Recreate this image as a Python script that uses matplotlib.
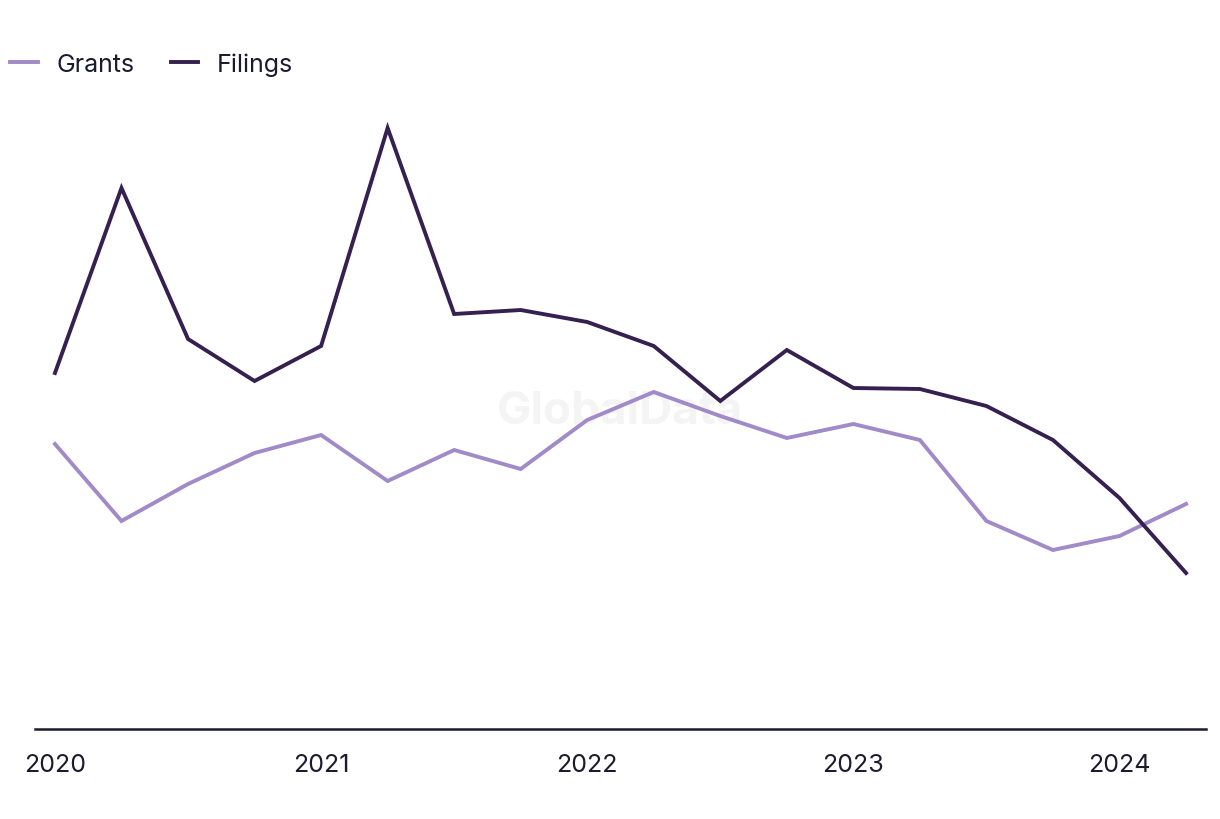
import matplotlib.pyplot as plt
import numpy as np

plt.rcParams['font.family'] = ['Inter', 'DejaVu Sans']

# quarterly, 2020 Q1 .. 2024 Q2
quarters = ['2020Q1', '2020Q2', '2020Q3', '2020Q4', '2021Q1', '2021Q2', '2021Q3', '2021Q4',
            '2022Q1', '2022Q2', '2022Q3', '2022Q4', '2023Q1', '2023Q2', '2023Q3', '2023Q4',
            '2024Q1', '2024Q2']
filings = [356, 541, 390, 348, 383, 601, 415, 419, 407, 383, 328, 379, 341, 340, 323, 289, 231, 156]
grants = [285, 208, 245, 276, 294, 248, 279, 260, 309, 337, 313, 291, 305, 289, 208, 179, 193, 225]
year_labels = ['2020', '2021', '2022', '2023', '2024']

text_col = '#1c1b2e'
fig = plt.figure(figsize=(12.2, 8.2), dpi=100)
ax = fig.add_axes([35 / 1220, 1 - 730 / 820, (1206 - 35) / 1220, 630 / 820])

x = np.arange(len(quarters))
ax.plot(x, grants, color='#a08ac8', lw=2.8, label='Grants', solid_joinstyle='miter')
ax.plot(x, filings, color='#35204f', lw=2.8, label='Filings', solid_joinstyle='miter')

ax.set_xlim(-0.3, len(quarters) - 1 + 0.3)
ax.set_ylim(0, 630)
ax.set_xticks(x[::4])
ax.set_xticklabels(year_labels)
ax.tick_params(axis='x', length=0, pad=17, labelsize=18, colors=text_col)
ax.set_yticks([])
for s in ['top', 'right', 'left']:
    ax.spines[s].set_visible(False)
ax.spines['bottom'].set_color(text_col)
ax.spines['bottom'].set_linewidth(1.8)

# watermark
ax.text(0.5, 0.505, 'GlobalData', transform=ax.transAxes, ha='center', va='center',
        fontsize=33, fontweight='bold', color='#f4f4f4', zorder=0)

fig.legend(loc='upper left', bbox_to_anchor=(-0.01, 0.962), ncol=2, frameon=False,
           fontsize=18, handlelength=1.1, columnspacing=1.45, handletextpad=0.75,
           labelcolor=text_col)

plt.savefig('out.png', dpi=100)
